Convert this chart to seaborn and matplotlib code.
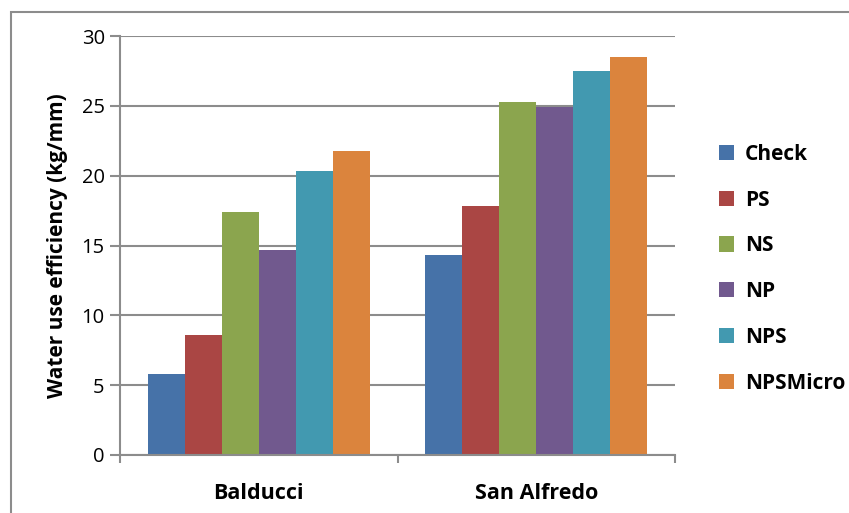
import matplotlib
matplotlib.use("Agg")
import matplotlib.pyplot as plt
from matplotlib.patches import Rectangle, Patch
import seaborn as sns
import pandas as pd

# datos
sitios = ["Balducci", "San Alfredo"]
tratamientos = ["Check", "PS", "NS", "NP", "NPS", "NPSMicro"]
balducci = [5.8, 8.6, 17.4, 14.7, 20.3, 21.8]
san_alfredo = [14.3, 17.8, 25.3, 24.9, 27.5, 28.5]
colores = ["#4672A8", "#AA4644", "#8BA54E", "#71598E", "#4299B0", "#DB843D"]

df = pd.DataFrame({
    "Sitio": [sitios[0]] * len(tratamientos) + [sitios[1]] * len(tratamientos),
    "Tratamiento": tratamientos * 2,
    "WUE": balducci + san_alfredo,
})

sns.set_theme(style="white")
plt.rcParams["font.family"] = ["Open Sans", "DejaVu Sans"]
plt.rcParams["text.color"] = "black"
plt.rcParams["xtick.color"] = "black"
plt.rcParams["ytick.color"] = "black"
plt.rcParams["axes.labelcolor"] = "black"

fig = plt.figure(figsize=(8.49, 5.13), dpi=100)
ax = fig.add_axes([120 / 849, 58 / 513, 555 / 849, 419 / 513])

sns.barplot(data=df, x="Sitio", y="WUE", hue="Tratamiento", hue_order=tratamientos,
            palette=colores, width=0.8, saturation=1, ax=ax, legend=False,
            edgecolor="none", linewidth=0)

ax.set_ylim(0, 30)
ax.set_xlim(-0.5, 1.5)
ax.set_yticks(range(0, 31, 5))
ax.yaxis.grid(True, color="#8C8C8C", linewidth=1.5)
ax.set_axisbelow(True)
for s in ["top", "right"]:
    ax.spines[s].set_visible(False)
for s in ["left", "bottom"]:
    ax.spines[s].set_color("#8C8C8C")
    ax.spines[s].set_linewidth(1.5)

ax.tick_params(axis="y", length=7, width=1.5, color="#8C8C8C", labelcolor="black",
               labelsize=14.5, pad=4, left=True)
ax.set_xticks([-0.5, 0.5, 1.5], minor=True)
ax.tick_params(axis="x", which="minor", length=6, width=1.5, color="#8C8C8C", bottom=True)
ax.tick_params(axis="x", which="major", length=0, pad=20, labelcolor="black")
for lab in ax.get_xticklabels():
    lab.set_fontsize(15.5)
    lab.set_fontweight("bold")

ax.set_xlabel("")
ax.set_ylabel("Water use efficiency (kg/mm)", fontsize=15, fontweight="bold", labelpad=10)

handles = [Patch(facecolor=c, edgecolor="none") for c in colores]
leg = fig.legend(handles, tratamientos, loc="upper left", bbox_to_anchor=(700 / 849, 1 - 125 / 513),
                 frameon=False, prop={"size": 15, "weight": "bold"}, handlelength=0.75,
                 handleheight=0.75, handletextpad=0.5, labelspacing=1.19)

# marco exterior
fig.patches.append(Rectangle((11 / 849, -0.05), 1.2, 1 - 12 / 513 + 0.05, transform=fig.transFigure,
                             fill=False, edgecolor="#8C8C8C", linewidth=1.5))

fig.savefig("out.png", dpi=100)
